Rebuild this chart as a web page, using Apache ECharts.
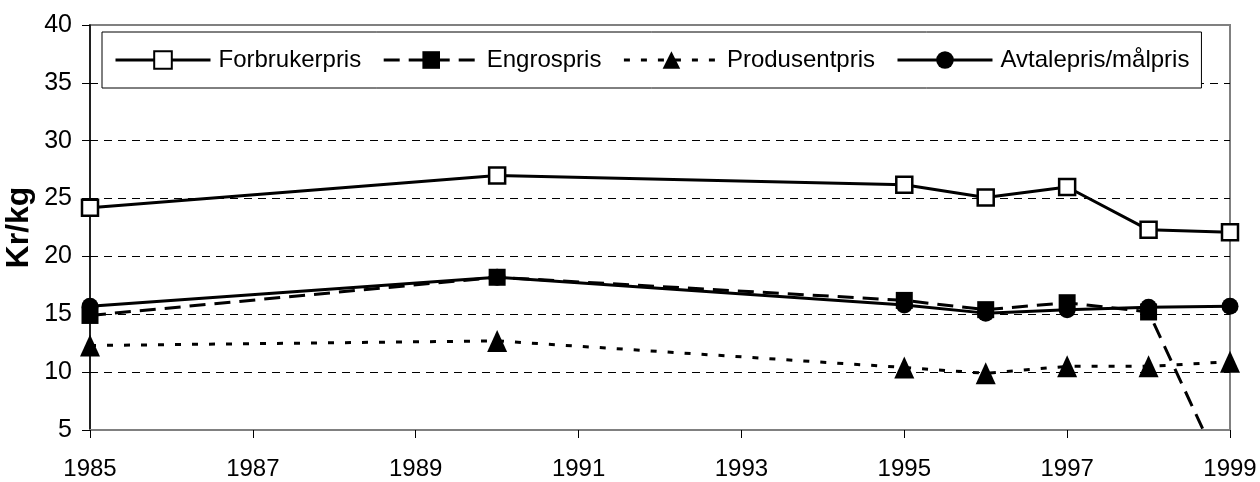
<!DOCTYPE html>
<html>
<head>
<meta charset="utf-8">
<script src="https://cdn.jsdelivr.net/npm/echarts@6/dist/echarts.min.js"></script>
<style>
  html, body { margin: 0; padding: 0; background: #fff; }
  #chart { width: 1260px; height: 482px; }
</style>
</head>
<body>
<div id="chart"></div>
<script>
// data (Kr/kg)
var years = [1985, 1990, 1995, 1996, 1997, 1998, 1999];
var forbrukerpris = [24.2, 27.0, 26.2, 25.1, 26.0, 22.3, 22.1];
var engrospris = [14.9, 18.2, 16.2, 15.4, 16.0, 15.2, 0];
var produsentpris = [12.3, 12.7, 10.4, 9.9, 10.5, 10.5, 10.9];
var avtalepris = [15.7, 18.2, 15.8, 15.1, 15.4, 15.6, 15.7];
var seriesNames = ["Forbrukerpris", "Engrospris", "Produsentpris", "Avtalepris/målpris"];
var yTicks = { min: 5, max: 40, step: 5 };
var xTicks = { min: 1985, max: 1999, step: 2 };

function pairs(vals) {
    return years.map(function (y, i) { return [y, vals[i]]; });
}

var font = "'Liberation Sans', Arial, sans-serif";
var myChart = echarts.init(document.getElementById("chart"));

myChart.setOption({
    animation: false,
    textStyle: { fontFamily: font },
    grid: {
        left: 90,
        right: 30,
        top: 25,
        bottom: 52,
        outerBoundsMode: "none",
        containLabel: false,
        show: true,
        borderColor: "#808080",
        borderWidth: 2
    },
    legend: {
        left: 102,
        top: 32,
        padding: [16, 12],
        itemGap: 21,
        itemWidth: 95,
        itemHeight: 22,
        backgroundColor: "#fff",
        borderColor: "#000",
        borderWidth: 1,
        lineStyle: { width: 3 },
        textStyle: { fontSize: 24, color: "#000", fontFamily: font, padding: [0, 0, 0, 3] },
        data: seriesNames
    },
    xAxis: {
        type: "value",
        min: xTicks.min,
        max: xTicks.max,
        interval: xTicks.step,
        axisLine: { lineStyle: { color: "#808080", width: 2 } },
        axisTick: { length: 8, lineStyle: { color: "#000" } },
        axisLabel: {
            fontSize: 24,
            color: "#000",
            margin: 27,
            formatter: function (v) { return String(v); }
        },
        splitLine: { show: false }
    },
    yAxis: {
        type: "value",
        min: yTicks.min,
        max: yTicks.max,
        interval: yTicks.step,
        name: "Kr/kg",
        nameLocation: "middle",
        nameGap: 55,
        nameMoveOverlap: false,
        nameTextStyle: { fontSize: 32, fontWeight: "bold", color: "#000" },
        axisLine: { show: true, lineStyle: { color: "#000", width: 1.5 } },
        axisTick: { show: true, length: 8, lineStyle: { color: "#000" } },
        axisLabel: { fontSize: 25, color: "#000", margin: 18 },
        splitLine: {
            show: true,
            showMinLine: false,
            showMaxLine: false,
            lineStyle: { color: "#000", width: 1, type: [8, 6] }
        }
    },
    series: [
        {
            name: seriesNames[0],
            type: "line",
            data: pairs(forbrukerpris),
            symbol: "rect",
            symbolSize: 16,
            lineStyle: { color: "#000", width: 3 },
            itemStyle: { color: "#fff", borderColor: "#000", borderWidth: 2.5 }
        },
        {
            name: seriesNames[1],
            type: "line",
            data: pairs(engrospris),
            symbol: "rect",
            symbolSize: 17,
            lineStyle: { color: "#000", width: 3, type: [16, 9] },
            itemStyle: { color: "#000" }
        },
        {
            name: seriesNames[2],
            type: "line",
            data: pairs(produsentpris),
            symbol: "triangle",
            symbolSize: [20, 22],
            lineStyle: { color: "#000", width: 3, type: [6, 11] },
            itemStyle: { color: "#000" }
        },
        {
            name: seriesNames[3],
            type: "line",
            data: pairs(avtalepris),
            symbol: "circle",
            symbolSize: 17,
            lineStyle: { color: "#000", width: 3 },
            itemStyle: { color: "#000" }
        }
    ]
});
</script>
</body>
</html>
